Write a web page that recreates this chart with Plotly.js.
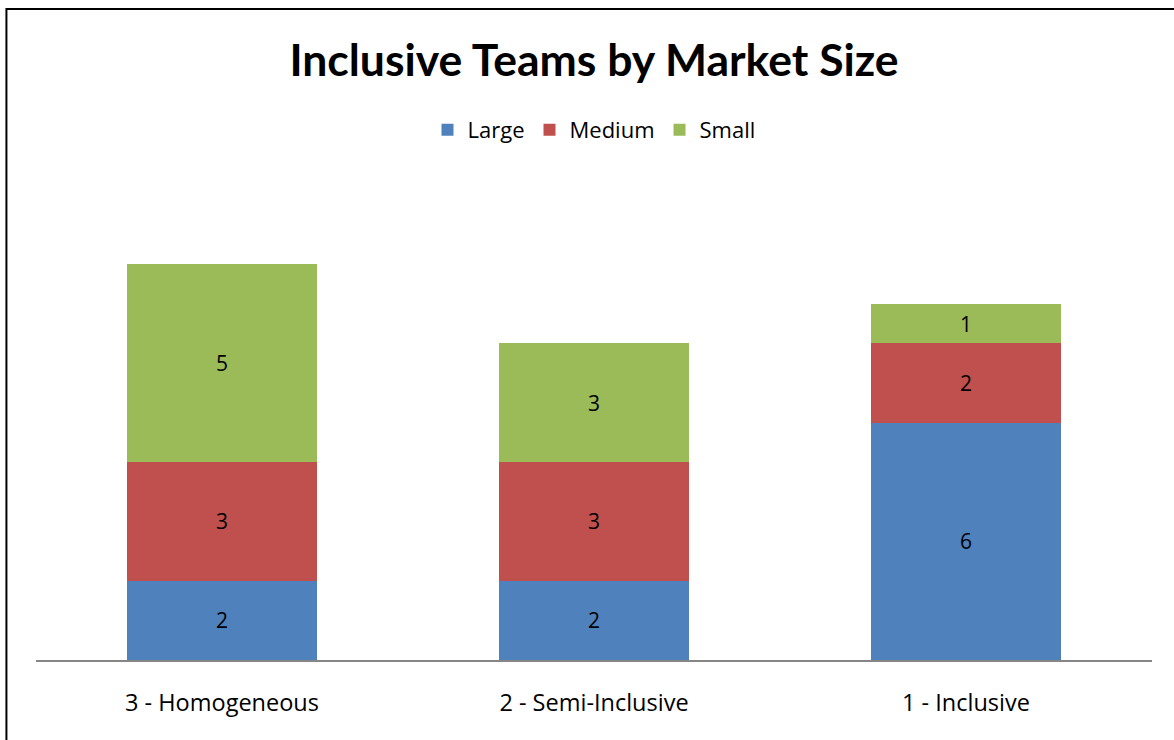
<!DOCTYPE html>
<html><head><meta charset="utf-8">
<script src="https://cdn.plot.ly/plotly-3.0.1.min.js"></script>
<style>html,body{margin:0;padding:0;background:#fff}#chart{width:1174px;height:740px}</style>
</head><body><div id="chart"></div>
<script>
const categories = ["3 - Homogeneous", "2 - Semi-Inclusive", "1 - Inclusive"];
const large = [2, 2, 6];
const medium = [3, 3, 2];
const small = [5, 3, 1];
const seriesNames = ["Large", "Medium", "Small"];
const seriesColors = ["#4F81BD", "#C0504D", "#9BBB59"];
const seriesValues = [large, medium, small];

const TFONT = "Lato, 'Open Sans', sans-serif";
const FONT = "'Open Sans', Lato, sans-serif";
const traces = seriesValues.map((vals, i) => ({
  type: "bar",
  name: seriesNames[i],
  x: categories,
  y: vals,
  marker: {color: seriesColors[i]},
  text: vals.map(String),
  textposition: "inside",
  insidetextanchor: "middle",
  textangle: 0,
  constraintext: "none",
  textfont: {family: FONT, size: 21, color: "#000"},
  hoverinfo: "none"
}));

const layout = {
  width: 1174, height: 740,
  margin: {l: 36, r: 22, t: 185, b: 80},
  paper_bgcolor: "#fff", plot_bgcolor: "#fff",
  barmode: "stack",
  bargap: 0.49,
  font: {family: FONT, color: "#000"},
  title: {text: "<b>Inclusive Teams by Market Size</b>", font: {family: TFONT, size: 44.5, color: "#000"},
          xref: "paper", x: 0.5, xanchor: "center", y: 0.919, yanchor: "middle"},
  legend: {orientation: "h", x: 0.5, xanchor: "center", y: 1.116, yanchor: "middle",
           font: {family: FONT, size: 22, color: "#000"}, traceorder: "normal", itemwidth: 30},
  xaxis: {showline: true, linecolor: "#868686", linewidth: 2, showgrid: false, zeroline: false,
          ticks: "outside", ticklen: 21, tickcolor: "rgba(0,0,0,0)",
          tickfont: {family: FONT, size: 23.5, color: "#000"}},
  yaxis: {range: [0, 12], visible: false, fixedrange: true},
  shapes: [{type: "rect", xref: "paper", yref: "paper", x0: -0.0265, x1: 1.2, y0: -0.4, y1: 1.3705,
            line: {color: "#000", width: 2}, fillcolor: "rgba(0,0,0,0)", layer: "above"}],
  showlegend: true
};
Plotly.newPlot("chart", traces, layout, {displayModeBar: false, staticPlot: true});
</script></body></html>
